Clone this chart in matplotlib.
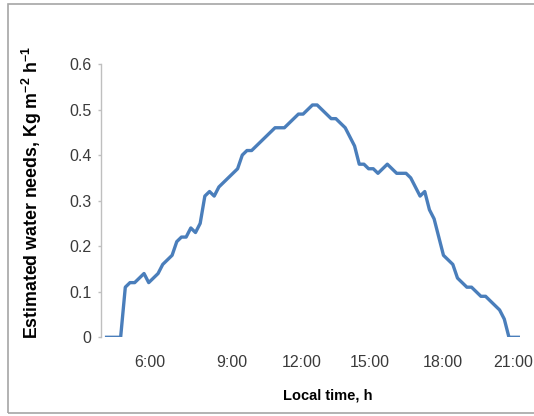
import numpy as np
import matplotlib.pyplot as plt
from matplotlib.patches import Rectangle

plt.rcParams['font.family'] = ['Liberation Sans', 'DejaVu Sans']
plt.rcParams['mathtext.fontset'] = 'custom'
plt.rcParams['mathtext.rm'] = 'Liberation Sans'
plt.rcParams['mathtext.bf'] = 'Liberation Sans:bold'

# water needs per reading, kg m-2 h-1
water = [0, 0, 0, 0, 0.11, 0.12, 0.12, 0.13, 0.14, 0.12,
         0.13, 0.14, 0.16, 0.17, 0.18, 0.21, 0.22, 0.22, 0.24, 0.23,
         0.25, 0.31, 0.32, 0.31, 0.33, 0.34, 0.35, 0.36, 0.37, 0.40,
         0.41, 0.41, 0.42, 0.43, 0.44, 0.45, 0.46, 0.46, 0.46, 0.47,
         0.48, 0.49, 0.49, 0.50, 0.51, 0.51, 0.50, 0.49, 0.48, 0.48,
         0.47, 0.46, 0.44, 0.42, 0.38, 0.38, 0.37, 0.37, 0.36, 0.37,
         0.38, 0.37, 0.36, 0.36, 0.36, 0.35, 0.33, 0.31, 0.32, 0.28,
         0.26, 0.22, 0.18, 0.17, 0.16, 0.13, 0.12, 0.11, 0.11, 0.10,
         0.09, 0.09, 0.08, 0.07, 0.06, 0.04, 0, 0, 0]

# category positions of the time labels
time_pos = [9.3, 26.8, 41.8, 56.3, 71.9, 86.8]
time_labels = ['6:00', '9:00', '12:00', '15:00', '18:00', '21:00']

y_ticks = [0, 0.1, 0.2, 0.3, 0.4, 0.5, 0.6]
y_ticklabels = ['0', '0.1', '0.2', '0.3', '0.4', '0.5', '0.6']

x = np.arange(len(water))

fig = plt.figure(figsize=(5.34, 4.16), dpi=100)
ax = fig.add_axes([0.1891, 0.1892, 0.7903, 0.657])

ax.plot(x, water, color='#4a7ebb', linewidth=2.4, solid_joinstyle='round')

ax.set_xlim(-1.2, 89)
ax.set_ylim(0, 0.6)

for s in ['top', 'right', 'bottom']:
    ax.spines[s].set_visible(False)
ax.spines['left'].set_color('#bfbfbf')
ax.spines['left'].set_linewidth(1.0)

ax.set_yticks(y_ticks)
ax.set_yticklabels(y_ticklabels)
ax.set_xticks(time_pos)
ax.set_xticklabels(time_labels)
ax.tick_params(axis='y', length=2.5, width=1.0, color='#bfbfbf', pad=4.5,
               labelsize=11.5, labelcolor='#3a3a3a')
ax.tick_params(axis='x', length=0, pad=12.5, labelsize=11.5, labelcolor='#3a3a3a')

ax.set_xlabel('Local time, h', fontsize=10.5, fontweight='bold', color='black')
ax.xaxis.set_label_coords(0.538, -0.186)
ax.set_ylabel(r'Estimated water needs, Kg m$^{\mathbf{-2}}$ h$^{\mathbf{-1}}$',
              fontsize=12.8, fontweight='bold', color='black')
ax.yaxis.set_label_coords(-0.135, 0.53)

# gray frame around the chart
fig.patches.append(Rectangle((0.0155, 0.0065), 1.0, 0.983, transform=fig.transFigure,
                             fill=False, edgecolor='#a6a6a6', linewidth=1.2))

fig.savefig('out.png', dpi=100)
